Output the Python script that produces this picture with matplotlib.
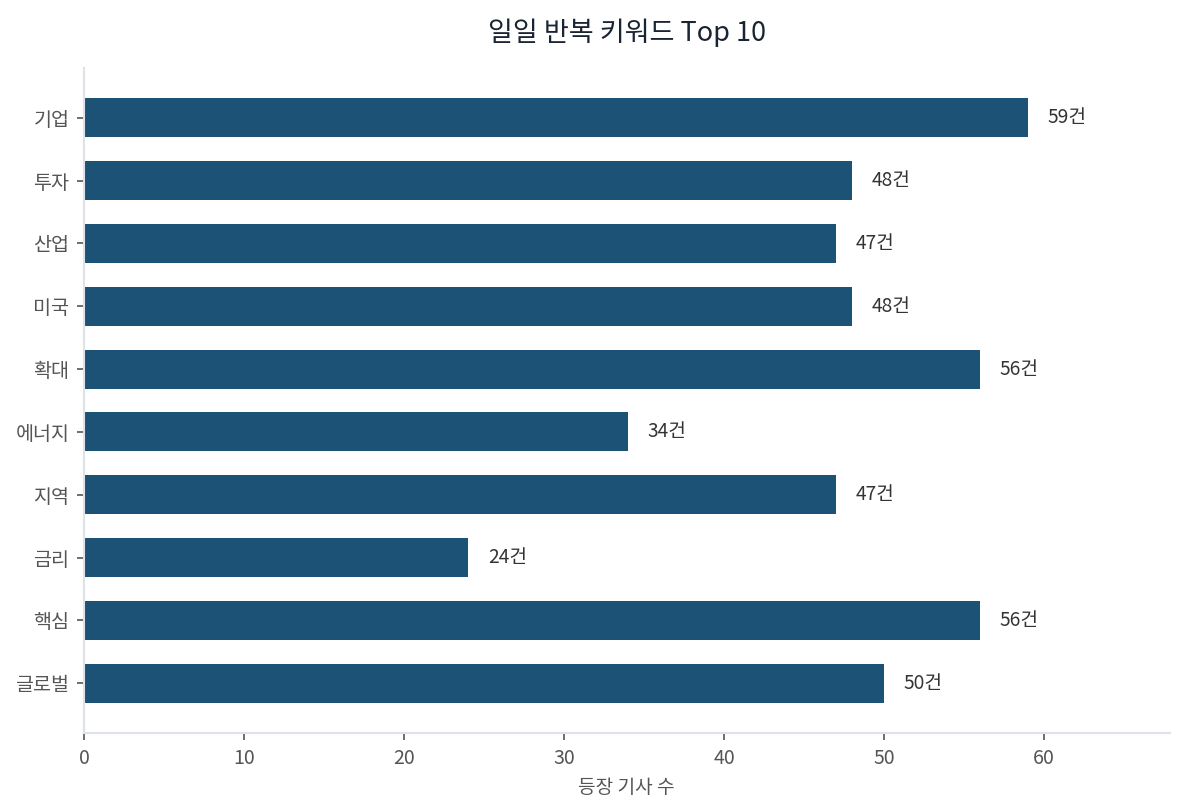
import matplotlib
matplotlib.use("Agg")
import matplotlib.pyplot as plt

plt.rcParams['font.family'] = ['Noto Sans CJK KR', 'DejaVu Sans']

keywords = ["기업", "투자", "산업", "미국", "확대", "에너지", "지역", "금리", "핵심", "글로벌"]
counts = [59, 48, 47, 48, 56, 34, 47, 24, 56, 50]
title = "일일 반복 키워드 Top 10"
xlabel = "등장 기사 수"

bar_color = "#1b5276"
spine_color = "#dde3e8"
text_gray = "#555555"

fig = plt.figure(figsize=(7.9, 8.09 * 7.9 / 11.85), dpi=150)
ax = fig.add_axes([0.0709, 0.094, 0.987 - 0.0709, 0.822])

ypos = list(range(len(keywords)))
ax.barh(ypos, counts, height=0.62, color=bar_color)
ax.invert_yaxis()
ax.set_yticks(ypos)
ax.set_yticklabels(keywords)
ax.set_xlim(0, max(counts) * 1.15)

for y, v in zip(ypos, counts):
    ax.annotate(f"{v}건", xy=(v, y), xytext=(9.5, 0), textcoords="offset points",
                va="center", ha="left", fontsize=9.2, color="#333333")

for s in ["top", "right"]:
    ax.spines[s].set_visible(False)
for s in ["left", "bottom"]:
    ax.spines[s].set_color(spine_color)
    ax.spines[s].set_linewidth(1.0)

ax.tick_params(axis="both", colors=text_gray, labelsize=9.4, length=3.5, width=0.8)
ax.set_xlabel(xlabel, fontsize=9.2, color=text_gray, labelpad=4)
ax.set_title(title, fontsize=13, color="#1a2533", pad=13)

fig.savefig("out.png", dpi=150, facecolor="white")
